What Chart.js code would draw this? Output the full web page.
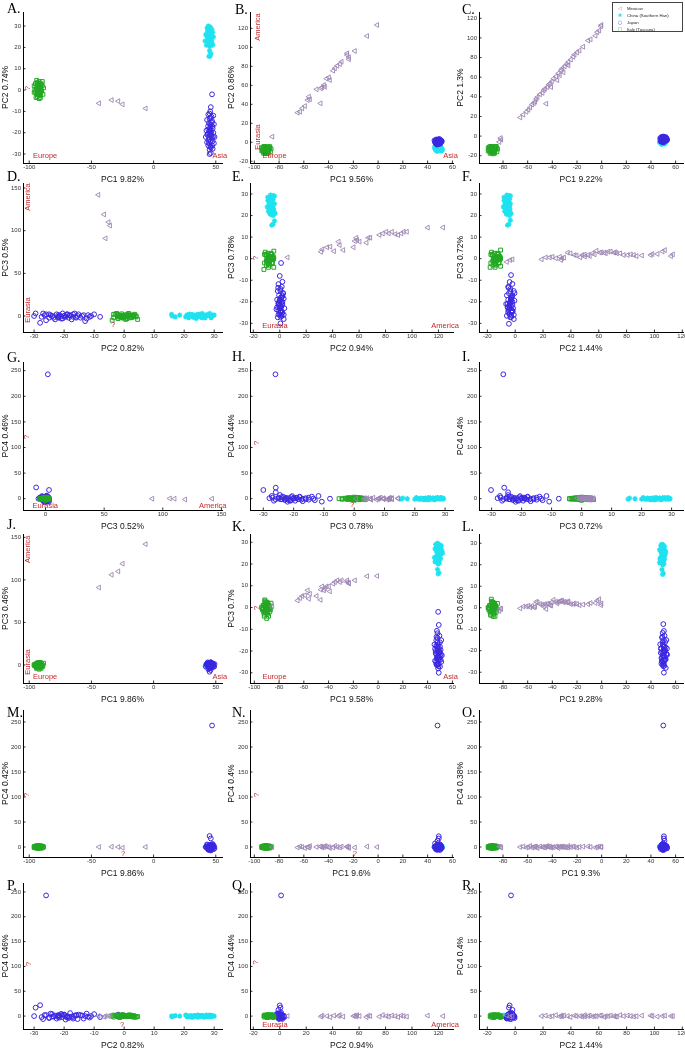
<!DOCTYPE html>
<html><head><meta charset="utf-8">
<script src="https://cdn.jsdelivr.net/npm/chart.js@4.4.1/dist/chart.umd.min.js"></script>
<style>
html,body{margin:0;padding:0;background:#fff;}
#wrap{position:relative;width:685px;height:1050px;overflow:hidden;background:#fff;}
canvas{position:absolute;}
.lt{position:absolute;font-family:'Liberation Serif','Times New Roman',serif;font-size:14px;color:#000;line-height:14px;}
#legend{position:absolute;left:612px;top:2px;width:71px;height:30px;border:0.7px solid #444;background:#fff;font-family:'Liberation Sans',Arial,sans-serif;font-size:4.3px;color:#222;box-sizing:border-box;}
#legend div{position:absolute;left:0;height:7px;line-height:7px;white-space:nowrap;}
#legend span.m{display:inline-block;width:14px;text-align:center;font-family:'DejaVu Sans',sans-serif;font-size:5px;}
</style></head><body><div id="wrap"></div>
<script>
// ---------- DATA: samples as [PC1, PC2, PC3, PC4] ----------
// Dataset 1 (left column: A, D, G, J, M, P)
const mex1 = [[-43.9,-6.2,91,0],[-33.7,-4.7,106,0.5],[-28.4,-5.2,110,0],[-24.9,-6.7,119,-1.5],[-6.4,-8.6,142,0]];
const chn1 = [[44,30,1,0],[45,29,-1,1],[44.5,28,2,-1],[43.5,27.5,0,2],[45.5,27,-2,0],[44,26.5,1,-2],[46,26,3,1],[43,25.5,-1,0],[45,25,0,-1],[44.5,24.5,2,2],[46.5,24,-3,0],[44,23.5,1,1],[45.5,23,-1,-2],[43.5,22.5,0,0],[47,22,2,1],[44.5,21.5,-2,-1],[46,21,1,0],[45,20.5,-1,2],[47.5,21,0,-1],[44,28.5,3,0],[45,26,-2,1],[46,22.5,0,-2],[45,18.5,1,0],[46,17,-1,1],[45.5,16,0,-1],[44.5,15.8,2,0],[43.5,24,-1,1],[45.5,29.5,1,0],
 [42,26,0,1],[47.5,27,1,-1],[41.5,23,-1,0],[48,25,2,1],[43,29,-2,-1],[46.8,28.5,0,2],[42.5,21,1,0],[47,24.5,-1,-2],[44.2,27.2,0.5,0],[45.8,25.2,-0.5,1],[43.8,22.8,1.5,-1],[46.2,23.2,-1.5,0],[44.8,29.2,0,1],[45.2,21.8,2,-1]];
const jpn1 = [[47,-2,1,3],[46,-8,-1,-2],[45.5,-10,2,4],[44,-11.5,-1,-3],[46.5,-12.5,-3,5],[45,-13.5,1,-5],[47,-14.5,-2,2],[44.5,-15.5,0,-6],[46,-16.5,3,1],[45.5,-17.5,-4,-1],[47.5,-18,1,6],[44,-18.5,-2,-4],[45,-19,2,0],[46,-19.5,-1,-7],[48,-20,0,3],[43.5,-20.5,3,-2],[45.5,-21,-3,4],[46.5,-21.5,1,-3],[44.5,-22,-1,2],[47,-22.5,2,-5],[45,-23,-4,1],[46,-24,0,-1],[43,-24.5,1,5],[48.5,-25,-2,-4],[44,-26,-5,2],[46,-27,3,-6],[45,-30,0,0],[45.5,-16,-1,1],[46,-19,2,-3],[44.8,-20,0,3],[47.2,-17,-1,-2],[45.8,-13,-6,0],[45,-28,-8,22],[46,-29.5,3,17],[47,-26,2,243],
 [42.5,-19,1,-1],[48.5,-16,-2,2],[43,-14,0,1],[49,-22,1,-2],[42,-22,-2,0],[47.5,-24,0,4],[44.5,-25,2,-3],[48,-12,1,-1],[46.5,-20.5,-3,2],[43.8,-17,2,-5],[47.8,-21.8,-1,1],[45.2,-18.2,0.5,-2],[46.8,-15.2,2,3],[44.2,-23.5,-2,-1],[45.8,-26.5,1,2],[43.2,-21,-0.5,4],[47.5,-27.5,-1,-2],[45,-11,0,0]];
const ita1 = [[-92,0,-1,0],[-93,1,0,1],[-91.5,-1,-2,-1],[-92.5,2,1,2],[-94,-2,-3,0],[-91,3,0,-2],[-93.5,-3,2,1],[-92,4,-1,-1],[-90.5,0.5,-4,0],[-94.5,1.5,1,2],[-92.8,-1.5,0,-3],[-91.2,-2.5,3,1],[-93,2.5,-2,0],[-95.5,0,-1,-1],[-90,-0.5,1,2],[-92,-4,-5,0],[-93.5,3.5,2,-2],[-91.5,1,-3,1],[-92.5,-0.5,0,3],[-94,0.5,1,-1],[-89.5,2,-2,0],[-96,-1,0,1],[-91,-3.5,2,-2],[-93,-2,-1,2],[-92,1.5,3,0],[-94,4.5,-4,-1],[-90.8,-1.2,0.5,1.5],[-92.2,0.8,-0.5,-0.5],
 [-95,3,1,0],[-89,-2,-1,1],[-96,2,0,-1],[-88.5,1,2,0],[-94.5,-3.5,-2,2],[-89.5,4,0,-2],[-93.8,0.2,-1.5,1],[-91.8,-2.2,1.5,-1],[-90.2,2.8,-0.5,0],[-92.8,3.2,0.5,1],[-91.2,-0.2,-2.5,-1],[-93.2,-0.8,2.5,0],[-90.8,1.8,1,2],[-94.8,-1.2,-0.5,-2]];
// Dataset 2 (middle column: B, E, H, K, N, Q)
const mex2 = [[-85.5,5.9,0.6,0],[-65,31.2,3.2,-1],[-63.1,32.2,4.3,1],[-61.3,35.8,5.3,0],[-59.1,38.2,5.6,-2],[-46.5,41,3.5,1],[-56.9,44.5,7.9,0],[-55.1,45.3,6.3,2],[-55.9,48,4,-1],[-49.7,55.8,5.3,0],[-46.2,56.8,8.2,1],[-45.2,57.9,9.7,-1],[-43,58.5,8.7,2],[-43.8,60.3,7.9,0],[-39,65.6,7.4,-2],[-41.6,67,9.7,1],[-39.8,68.4,9.7,0],[-36.3,75.4,11,-1],[-34.9,77.9,11.7,2],[-33,80.6,12.5,0],[-30.9,82.4,11.7,-1],[-29.5,84.8,12.5,1],[-23.6,87.4,11.4,0],[-23.6,89.5,11,-2],[-25,91.9,11.7,1],[-25,93.7,12.5,0],[-18.8,96.1,12.5,-1],[-8.9,111.9,14.4,1],[-0.8,123.5,14.5,0]];
const chn2 = [[48,-7,29.5,0],[48.5,-6,29,1],[47.5,-8,28,-1],[49,-5,27.5,2],[48,-9,27,0],[49.5,-7,26.5,-2],[47,-6,26,1],[48.5,-4,25.5,0],[50,-8,25,-1],[48,-5.5,24.5,2],[47.5,-9.5,24,0],[49,-6.5,23.5,1],[48.5,-7.5,23,-2],[50.5,-4.5,22.5,0],[47,-8.5,22,1],[49,-6,21.5,-1],[48,-3.5,21,0],[49.5,-7,20.5,2],[48.5,-5,20,-1],[47.5,-6.5,28.5,0],[49,-8,26,1],[50,-5.5,24,-2],[48,-4,17.5,0],[49,-5,16,1],[48.5,-6,15.5,-1],[46.5,-7,22.8,0],[51,-6,27,1],
 [46,-6,27,1],[51.5,-7,26,-1],[45.5,-5,23,0],[52,-8,25,1],[46.5,-4,29,-1],[51,-9,28.5,2],[46,-7.5,21,0],[50.5,-5,24.5,-2],[48.2,-6.2,27.2,0],[49.8,-7.2,25.2,1],[47.8,-5.2,22.8,-1],[49.2,-8.2,23.2,0],[48.8,-4.8,29.2,1],[47.2,-6.8,21.8,-1]];
const jpn2 = [[48.5,1,-2,0],[49,0,-8,0],[47.5,2,-10.7,-5.8],[48,-1,-11.8,5.3],[49.5,1.5,-13,-3],[48,0.5,-14,4],[47,-1.5,-15,-2],[50,2.5,-16,1],[48.5,-0.5,-17,-5],[47.5,1,-18,3],[49,3,-18.5,-1],[48,-2,-19,2],[50.5,0,-19.5,-4],[46.5,1.5,-20,0],[49,-1,-20.5,5],[48.5,2,-21,-3],[47,0,-21.5,1],[50,-0.5,-22,-6],[48,1,-22.5,2],[49.5,3.5,-23,-2],[47.5,-2.5,-23.5,4],[48.5,0.5,-24,-1],[46,1,-24.5,7.2],[51,2,-25,0],[48,-1,-25.9,12.5],[49,0,-25.9,21.5],[47.5,1.5,-26.5,-4],[50,-1.5,-27.2,5.3],[48.5,3,-28,1],[49,0.5,-30,17],[48,1,-26,243],[47,2,-17.5,-2],[49.8,-0.8,-20.8,3],
 [46,0,-19,1],[51.5,1,-22,-2],[45.5,2,-17,0],[50.5,-1,-24,3],[47,3,-26,-1],[51,0.5,-15,2],[46.5,-1,-21,-4],[49.5,2,-20,1],[47.5,0,-23,-2],[50,1,-18,4],[48,2.5,-16,-1],[49,-2,-22.5,0],[46.8,0.5,-25,2],[50.8,1.8,-21.5,-3],[48.2,-0.2,-19.8,1],[49.2,1.2,-24.2,-1],[47.2,-1.2,-13.5,0],[48.8,0.8,-27,2]];
const ita2 = [[-90,-8,0,0],[-91,-7,1,1],[-89.5,-9,-2,-1],[-90.5,-6,2,2],[-92,-10,-3,0],[-89,-5,0,-2],[-91.5,-11,3,1],[-90,-7.5,-1,-1],[-88.5,-8.5,-4,0],[-92.5,-6.5,1,2],[-90.8,-9.5,0,-3],[-89.2,-10.5,2,1],[-91,-5.5,-2,0],[-93.5,-8,-1,-1],[-88,-7,1,2],[-90,-12,-5,0],[-91.5,-4.5,3.5,-2],[-89.5,-8,-3,1],[-90.5,-9,0,3],[-92,-7.5,1,-1],[-87.5,-6,-2,0],[-94,-9,0,1],[-89,-11.5,2,-2],[-91,-10,-1,2],[-90,-6.5,2.5,0],[-92,-4.5,-4,-1],[-88.8,-9.2,0.5,1.5],[-90.2,-7.2,-0.5,-0.5],
 [-93,-5,1,0],[-87,-10,-1,1],[-94,-6,0,-1],[-86.5,-7,2,0],[-92.5,-11.5,-2,2],[-87.5,-4.5,0,-2],[-91.8,-7.8,-1.5,1],[-89.8,-10.2,1.5,-1],[-88.2,-5.2,-0.5,0],[-90.8,-4.8,0.5,1],[-89.2,-8.2,-2.5,-1],[-91.2,-8.8,2.5,0],[-88.8,-6.2,1,2],[-92.8,-9.2,-0.5,-2]];
// Dataset 3 (right column: C, F, I, L, O, R)
const mex3 = [[-82,-2,-0.3,0],[-83,-6,-1.5,1],[-81.5,-3.6,-0.6,-1],[-66,19,-0.3,0],[-63.5,21.9,0.6,1],[-61,24.8,0.6,-1],[-59.5,26.8,0.9,0],[-58,29.2,0.2,2],[-56.5,32.1,0.9,-1],[-55,33.6,0.2,0],[-45,33,-0.6,1],[-53,37.7,2.8,0],[-52,39.7,2.5,-2],[-50,42.6,1.7,1],[-47,46.7,0.6,0],[-46,48.2,1.7,-1],[-44,49.9,1.9,2],[-43,52.3,1.7,0],[-42,53.5,1.2,1],[-40.5,55.5,2.5,-1],[-39,58.4,3.7,0],[-37,60.8,2.8,1],[-35,64,2.8,-2],[-33,66.9,3.3,0],[-32,68.6,3.3,1],[-30,71,2.8,0],[-28.5,73,2.5,-1],[-27,75.4,2.5,2],[-25,77.9,1.7,0],[-23,80.8,1.7,1],[-20,85.2,1.7,-1],[-18,87.1,1.2,0],[-11,97.3,1.7,1],[-9,98.5,2.2,0],[-5,102.2,2.2,-1],[-3.5,105.8,3.3,0],[-2,107.5,4,1],[-0.5,111.9,1.2,0],[-0.2,113.2,2,0],[-36,57,2,0],[-34,62,3,1],[-31,65,2.5,0],[-41,50,1,-1],[-48,44,1.5,0],[-54,35,0.5,1],[-27,72,3,-1],[-22,83,2,0],[-15,91,1.5,1]];
const chn3 = [[49,-6,29.5,0],[49.5,-5,29,1],[48.5,-7,28,-1],[50,-4,27.5,2],[49,-8,27,0],[50.5,-6,26.5,-2],[48,-5,26,1],[49.5,-3.5,25.5,0],[50.5,-7.5,25,-1],[49,-4.5,24.5,2],[48.5,-8.5,24,0],[50,-5.5,23.5,1],[49.5,-6.5,23,-2],[51,-4,22.5,0],[48,-7.5,22,1],[50,-5,21.5,-1],[49,-3,21,0],[50.5,-6,20.5,2],[49.5,-4,20,-1],[48.5,-5.5,28.5,0],[50,-7,26,1],[51,-4.5,24,-2],[49,-3.5,17.8,0],[50,-4.5,16,1],[49.5,-5.5,15.5,-1],[47.5,-6,22.8,0],[51,-5,27,1],
 [47,-5,27,1],[52,-6,26,-1],[47.5,-4,23,0],[51.5,-7,25,1],[48,-3.5,29,-1],[51,-8,28.5,2],[47,-6.5,21,0],[51,-4,24.5,-2],[49.2,-5.2,27.2,0],[50.8,-6.2,25.2,1],[48.8,-4.2,22.8,-1],[50.2,-7.2,23.2,0],[49.8,-3.8,29.2,1],[48.2,-5.8,21.8,-1]];
const jpn3 = [[50,-3,-7.6,0],[50.5,-4,-10.8,-5.8],[49.5,-2,-11.7,5.3],[51,-5,-13,-3],[49,-3.5,-14,4],[50.5,-1,-15,-2],[51.5,-4.5,-16,1],[49.5,-6,-17,-5],[50,-2.5,-18,3],[52,-3,-18.5,-1],[48.5,-5,-19,2],[50.5,-0.5,-19.5,-4],[51,-3.5,-20,0],[49,-4,-20.5,5],[50,-6.5,-21,-3],[52.5,-2,-21.5,1],[49.5,-3,-22,-6],[51,-5.5,-22.5,2],[50,-1.5,-23,-2],[48.5,-4.5,-23.5,4],[51.5,-2.5,-24,-1],[50,-3,-24.5,7.2],[49,-5,-25,0],[50.5,-4,-25.8,21.5],[51,-2,-24.5,12.5],[49.5,-6,-26.5,-4],[50,-3.5,-27.2,5.3],[52,-1,-28,1],[50.5,-4.5,-30.2,17],[50,-3,-26.1,243],[49.8,-2.2,-17.5,-2],[50.8,-3.8,-20.8,3],[53,-3,-19,0],
 [48,-3,-19,1],[53,-4,-22,-2],[47.5,-2,-17,0],[52,-5,-24,3],[48.5,-1,-26,-1],[52.5,-3.5,-15,2],[48,-5.5,-21,-4],[51.5,-2,-20,1],[49,-4,-23,-2],[51,-3,-18,4],[49.5,-0.5,-16,-1],[50.5,-5,-22.5,0],[48.8,-2.5,-25,2],[52.8,-4.2,-21.5,-3],[50.2,-3.2,-19.8,1],[51.2,-1.8,-24.2,-1],[49.2,-4.8,-13.5,0],[50.8,-2.8,-27,2]];
const ita3 = [[-88,-14,0,0],[-89,-13,1,1],[-87.5,-15,-2,-1],[-88.5,-12,2,2],[-90,-16,-3,0],[-87,-11,0,-2],[-89.5,-17,3,1],[-88,-13.5,-1,-1],[-86.5,-14.5,-4,0],[-90.5,-12.5,1,2],[-88.8,-15.5,0,-3],[-87.2,-16.5,2,1],[-89,-11.5,-2,0],[-91.5,-14,-1,-1],[-86,-13,1,2],[-88,-18,-4,0],[-89.5,-10.5,4,-2],[-87.5,-14,-3,1],[-88.5,-15,0,3],[-90,-13.5,1,-1],[-85.5,-12,-2,0],[-92,-15,0,1],[-87,-17.5,2,-2],[-89,-16,-1,2],[-88,-12.5,2.5,0],[-90,-10.5,-3.5,-1],[-86.8,-15.2,0.5,1.5],[-88.2,-13.2,-0.5,-0.5],
 [-91,-11,1,0],[-85,-16,-1,1],[-92,-12,0,-1],[-84.5,-13,2,0],[-90.5,-17.5,-2,2],[-85.5,-10.5,0,-2],[-89.8,-13.8,-1.5,1],[-87.8,-16.2,1.5,-1],[-86.2,-11.2,-0.5,0],[-88.8,-10.8,0.5,1],[-87.2,-14.2,-2.5,-1],[-89.2,-14.8,2.5,0],[-86.8,-12.2,1,2],[-90.8,-15.2,-0.5,-2]];

const groups = ['Mexican','China (Southern Han)','Japan','Italy (Toscana)'];
// tick label lists
const tkA = [-100,-50,0,50];
const tkB = [-100,-80,-60,-40,-20,0,20,40,60];
const tkC = [-80,-60,-40,-20,0,20,40,60];
const tkE = [-20,0,20,40,60,80,100,120];
const tk30 = [-30,-20,-10,0,10,20,30];
const tkB_y = [-20,0,20,40,60,80,100,120];
const tk150 = [0,50,100,150];
const tk250 = [0,50,100,150,200,250];

const sets = {1:[mex1,chn1,jpn1,ita1], 2:[mex2,chn2,jpn2,ita2], 3:[mex3,chn3,jpn3,ita3]};

// ---------- LAYOUT ----------
const COLS = [{L:23,R:222,cl:0},{L:250,R:453,cl:226},{L:479,R:683,cl:455}];
const ROWS = [{T:12,B:163},{T:183,B:332},{T:362,B:510},{T:534,B:683},{T:710,B:857},{T:883,B:1029}];
const PT = 10, PR = 12, XH = 22;
const letters = [[7,2],[235,3],[462,3],[7,170],[232,170],[462,170],[7,351],[232,350],[462,350],[7,518],[232,520],[462,520],[7,706],[232,706],[462,706],[7,879],[232,879],[462,879]];
const Y5 = [-20,274], Y6 = [-26,268];

const panels = [
 {k:'A',d:1,xi:0,yi:1,xl:'PC1 9.82%',yl:'PC2 0.74%',xr:[-105,55],xt:tkA,yr:[-34.2,36.6],yt:tk30,
  notes:[{t:'Europe',x:-87.2,y:-30.8},{t:'Asia',x:53.2,y:-30.8},{t:'?',x:-100.8,y:0.9,r:-90}]},
 {k:'B',d:2,xi:0,yi:1,xl:'PC1 9.56%',yl:'PC2 0.86%',xr:[-103.5,60.5],xt:tkB,yr:[-21.8,137.2],yt:tkB_y,
  notes:[{t:'America',x:-97.3,y:121.4,r:-90},{t:'Eurasia',x:-97,y:5.6,r:-90},{t:'Europe',x:-83.7,y:-14.1},{t:'Asia',x:58.5,y:-14.1}]},
 {k:'C',d:3,xi:0,yi:1,xl:'PC1 9.22%',yl:'PC2 1.3%',xr:[-99.5,66],xt:tkC,yr:[-27.4,126.4],yt:tkB_y,notes:[]},
 {k:'D',d:1,xi:1,yi:2,xl:'PC2 0.82%',yl:'PC3 0.5%',xr:[-33.7,32.6],xt:tk30,yr:[-18.75,155.9],yt:tk150,
  notes:[{t:'America',x:-32,y:139.5,r:-90},{t:'Eurasia',x:-32,y:7,r:-90},{t:'?',x:-3.7,y:-10.6}]},
 {k:'E',d:2,xi:1,yi:2,xl:'PC2 0.94%',yl:'PC3 0.78%',xr:[-22.5,131],xt:tkE,yr:[-34,35.1],yt:tk30,
  notes:[{t:'?',x:-18.2,y:0.3,r:-90},{t:'Eurasia',x:-3.6,y:-31.1},{t:'America',x:125,y:-31.1}]},
 {k:'F',d:3,xi:1,yi:2,xl:'PC2 1.44%',yl:'PC3 0.72%',xr:[-26,120.5],xt:tkE,yr:[-34,35.1],yt:tk30,notes:[]},
 {k:'G',d:1,xi:2,yi:3,xl:'PC3 0.52%',yl:'PC4 0.46%',xr:[-19.2,150.5],xt:tk150,yr:[-22.1,267],yt:tk250,
  notes:[{t:'?',x:-15.8,y:120.5,r:-90},{t:'Eurasia',x:-0.2,y:-14.3},{t:'America',x:142.6,y:-14.3}]},
 {k:'H',d:2,xi:2,yi:3,xl:'PC3 0.78%',yl:'PC4 0.44%',xr:[-34.4,32.6],xt:tk30,yr:[-22.1,267],yt:tk250,
  notes:[{t:'?',x:-32.1,y:108.8,r:-90},{t:'?',x:-0.7,y:-12.3}]},
 {k:'I',d:3,xi:2,yi:3,xl:'PC3 0.72%',yl:'PC4 0.4%',xr:[-34.2,33.8],xt:tk30,yr:[-22.1,267],yt:tk250,notes:[]},
 {k:'J',d:1,xi:0,yi:2,xl:'PC1 9.86%',yl:'PC3 0.46%',xr:[-105,55],xt:tkA,yr:[-21.2,153.9],yt:tk150,
  notes:[{t:'America',x:-100.8,y:136,r:-90},{t:'Eurasia',x:-100.8,y:3.5,r:-90},{t:'Europe',x:-87.2,y:-14.2},{t:'Asia',x:53.2,y:-14.2}]},
 {k:'K',d:2,xi:0,yi:2,xl:'PC1 9.58%',yl:'PC3 0.7%',xr:[-103.5,60.5],xt:tkB,yr:[-34.7,33.8],yt:tk30,
  notes:[{t:'?',x:-97.8,y:-0.2,r:-90},{t:'Europe',x:-83.7,y:-32},{t:'Asia',x:58.5,y:-32}]},
 {k:'L',d:3,xi:0,yi:2,xl:'PC1 9.28%',yl:'PC3 0.66%',xr:[-99.5,66],xt:tkC,yr:[-35,34.3],yt:tk30,notes:[]},
 {k:'M',d:1,xi:0,yi:3,xl:'PC1 9.86%',yl:'PC4 0.42%',xr:[-105,55],xt:tkA,yr:Y5,yt:tk250,
  notes:[{t:'?',x:-101.6,y:104,r:-90},{t:'?',x:-24.6,y:-14}]},
 {k:'N',d:2,xi:0,yi:3,xl:'PC1 9.6%',yl:'PC4 0.4%',xr:[-103.5,60.5],xt:tkB,yr:Y5,yt:tk250,
  notes:[{t:'?',x:-97.8,y:104,r:-90},{t:'?',x:-18.8,y:-14}]},
 {k:'O',d:3,xi:0,yi:3,xl:'PC1 9.3%',yl:'PC4 0.38%',xr:[-99.5,66],xt:tkC,yr:Y5,yt:tk250,notes:[]},
 {k:'P',d:1,xi:1,yi:3,xl:'PC2 0.82%',yl:'PC4 0.46%',xr:[-33.7,32.6],xt:tk30,yr:Y6,yt:tk250,
  notes:[{t:'?',x:-31.7,y:105,r:-90},{t:'?',x:-0.7,y:-18}]},
 {k:'Q',d:2,xi:1,yi:3,xl:'PC2 0.94%',yl:'PC4 0.44%',xr:[-22.5,131],xt:tkE,yr:Y6,yt:tk250,
  notes:[{t:'?',x:-18.2,y:108,r:-90},{t:'Eurasia',x:-3.6,y:-18},{t:'America',x:125,y:-18}]},
 {k:'R',d:3,xi:1,yi:3,xl:'PC2 1.44%',yl:'PC4 0.4%',xr:[-26,120.5],xt:tkE,yr:Y6,yt:tk250,notes:[]}
];

const STY = [
 {pointStyle:'triangle',pointRotation:-90,pointRadius:2.8,pointBorderColor:'#9c86b4',pointBorderWidth:0.9},
 {pointStyle:'star',pointRadius:2.6,pointBorderColor:'#1fe2f0',pointBorderWidth:1.3},
 {pointStyle:'circle',pointRadius:2.4,pointBorderColor:'#3a26e0',pointBorderWidth:1},
 {pointStyle:'rect',pointRadius:2.7,pointBorderColor:'#24a824',pointBorderWidth:1}
];
const DRAW_ORDER = [0,3,2,1]; // first = on top

const notePlugin = {
  id:'notes',
  afterDraw(chart, args, opts){
    const ctx = chart.ctx, xs = chart.scales.x, ys = chart.scales.y, a = chart.chartArea;
    ctx.save();
    ctx.strokeStyle = '#000'; ctx.lineWidth = 0.8;
    xs.ticks.forEach(t=>{const p=xs.getPixelForValue(t.value);ctx.beginPath();ctx.moveTo(p,a.bottom);ctx.lineTo(p,a.bottom-2.5);ctx.stroke();});
    ys.ticks.forEach(t=>{const p=ys.getPixelForValue(t.value);ctx.beginPath();ctx.moveTo(a.left,p);ctx.lineTo(a.left+2.5,p);ctx.stroke();});
    (opts.items||[]).forEach(n=>{
      const px = xs.getPixelForValue(n.x), py = ys.getPixelForValue(n.y);
      ctx.save(); ctx.translate(px,py); if(n.r) ctx.rotate(n.r*Math.PI/180);
      ctx.font = '7.5px "Liberation Sans", Arial, sans-serif';
      ctx.fillStyle = '#c42a2c'; ctx.textAlign='center'; ctx.textBaseline='middle';
      ctx.fillText(n.t,0,0); ctx.restore();
    });
    ctx.restore();
  }
};

const wrap = document.getElementById('wrap');
panels.forEach((p,i)=>{
  const c = COLS[i%3], r = ROWS[Math.floor(i/3)];
  const YW = c.L - c.cl;
  const W = YW + (c.R - c.L) + PR, H = PT + (r.B - r.T) + XH;
  const cv = document.createElement('canvas');
  cv.width = W; cv.height = H;
  cv.style.left = c.cl+'px'; cv.style.top = (r.T-PT)+'px';
  cv.style.width = W+'px'; cv.style.height = H+'px';
  wrap.appendChild(cv);
  const lt = document.createElement('div'); lt.className='lt'; lt.textContent = p.k+'.';
  lt.style.left = letters[i][0]+'px'; lt.style.top = letters[i][1]+'px'; wrap.appendChild(lt);
  const src = sets[p.d];
  const datasets = DRAW_ORDER.map(g=>Object.assign({
    label: groups[g], showLine:false, clip:false,
    pointBackgroundColor:'rgba(0,0,0,0)',
    data: src[g].map(s=>({x:s[p.xi], y:s[p.yi]}))
  }, STY[g]));
  const tickFont = {size:6, family:'"Liberation Sans", Arial, sans-serif'};
  const titleFont = {size:8.5, family:'"Liberation Sans", Arial, sans-serif'};
  new Chart(cv, {
    type:'scatter',
    data:{datasets},
    options:{
      responsive:false, animation:false, events:[], devicePixelRatio:1,
      layout:{padding:{left:0,top:PT,right:PR,bottom:0}, autoPadding:false},
      plugins:{legend:{display:false}, tooltip:{enabled:false}, notes:{items:p.notes}},
      scales:{
        x:{type:'linear', min:p.xr[0], max:p.xr[1],
           afterBuildTicks:s=>{s.ticks = p.xt.map(v=>({value:v}));},
           afterFit:s=>{s.height = XH;},
           grid:{display:false, drawTicks:false}, border:{display:true,color:'#000',width:1},
           ticks:{font:tickFont,color:'#333',padding:1,maxRotation:0,autoSkip:false},
           title:{display:true,text:p.xl,font:titleFont,color:'#111',padding:{top:0,bottom:0}}},
        y:{type:'linear', min:p.yr[0], max:p.yr[1],
           afterBuildTicks:s=>{s.ticks = p.yt.map(v=>({value:v}));},
           afterFit:s=>{s.width = YW;},
           grid:{display:false, drawTicks:false}, border:{display:true,color:'#000',width:1},
           ticks:{font:tickFont,color:'#333',padding:2,autoSkip:false},
           title:{display:true,text:p.yl,font:titleFont,color:'#111',padding:{top:1,bottom:0}}}
      }
    },
    plugins:[notePlugin]
  });
});

// legend (panel C)
const lg = document.createElement('div'); lg.id='legend';
const marks = [['◁','#9c86b4'],['✱','#1fe2f0'],['○','#3a26e0'],['□','#24a824']];
groups.forEach((g,i)=>{
  const d = document.createElement('div'); d.style.top = (1.5+i*7)+'px';
  d.innerHTML = '<span class="m" style="color:'+marks[i][1]+'">'+marks[i][0]+'</span>'+g;
  lg.appendChild(d);
});
wrap.appendChild(lg);
</script></body></html>
